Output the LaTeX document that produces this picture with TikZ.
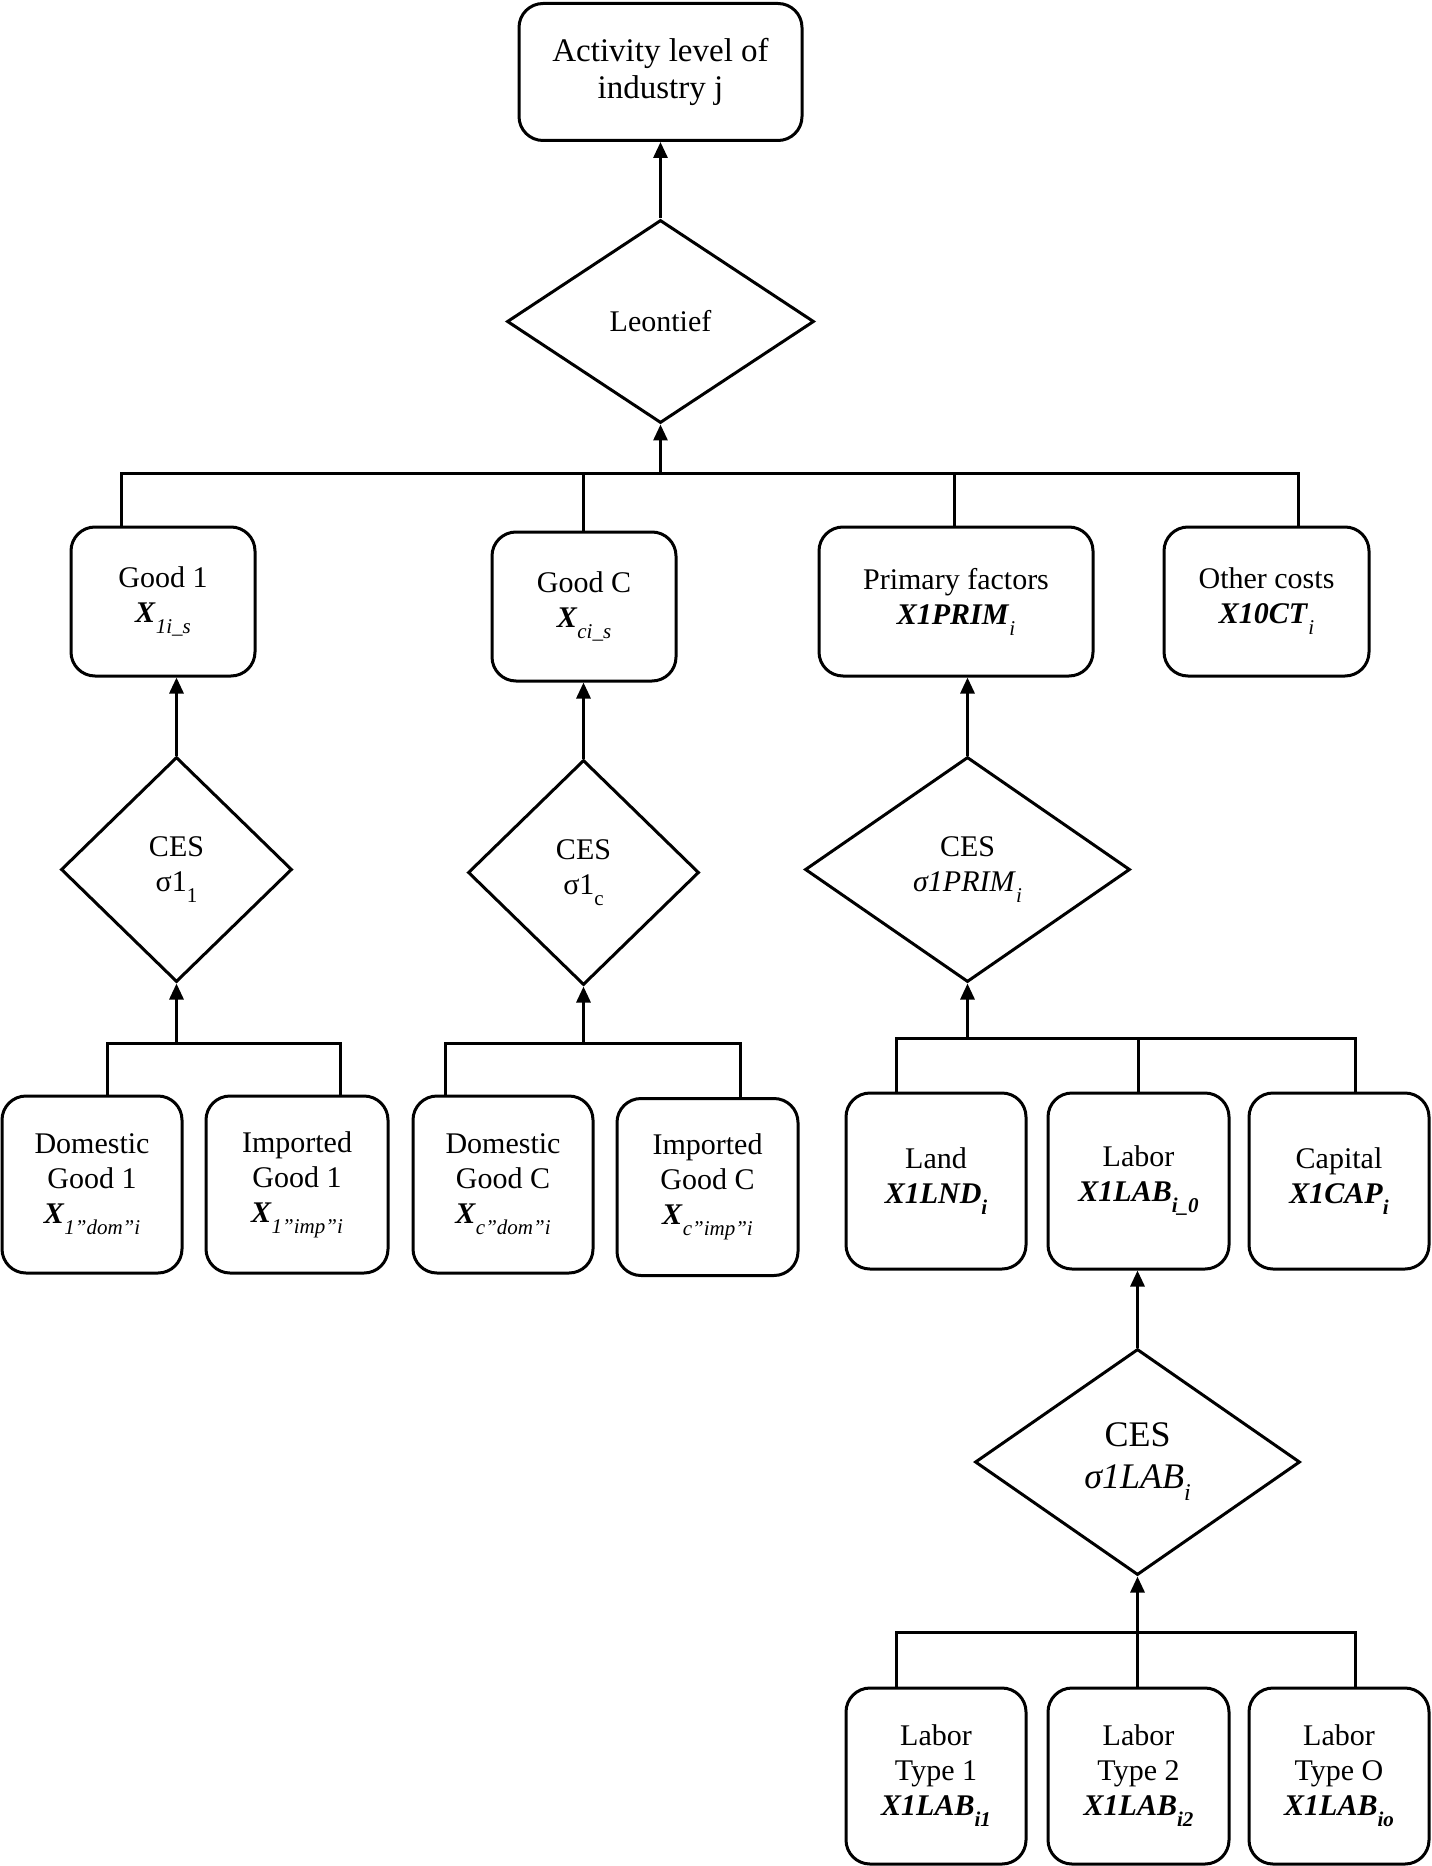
\documentclass[tikz,border=0pt]{standalone}
\usepackage{fontspec}
\setmainfont{Liberation Serif}
\usetikzlibrary{shapes.geometric,arrows.meta}
\newcommand\sbi[1]{\raisebox{-5.5pt}{\fontsize{10.5pt}{10.5pt}\selectfont\itshape #1}}
\newcommand\sbu[1]{\raisebox{-5.5pt}{\fontsize{10.5pt}{10.5pt}\selectfont #1}}
\newcommand\sbb[1]{\raisebox{-5.5pt}{\fontsize{10.5pt}{10.5pt}\selectfont\bfseries\itshape #1}}
\newcommand\bix[1]{\textbf{\textit{#1}}}
\tikzset{
  box/.style={draw, line width=1.5pt, rounded corners=12pt, align=center, inner sep=0pt,
    font=\fontsize{15pt}{17.5pt}\selectfont},
  dia/.style={draw, diamond, line width=1.5pt, align=center, inner sep=0pt,
    font=\fontsize{15pt}{17.5pt}\selectfont},
  conn/.style={line width=1.5pt},
  arr/.style={line width=1.5pt, -{Triangle[width=7pt,length=8pt]}},
}
\begin{document}
\begin{tikzpicture}[x=0.5pt,y=-0.5pt]
\useasboundingbox (0,0) rectangle (1431,1866);
% top box
\node[box, minimum width=141.5pt, minimum height=68.5pt, font=\fontsize{16.5pt}{18.5pt}\selectfont] (top) at (660.5,72) {Activity level of\\industry j};
\node[dia, minimum width=153.5pt, minimum height=101.5pt] (leon) at (660.5,321.5) {Leontief};
% level 2 boxes
\node[box, minimum width=92pt, minimum height=74.5pt] (g1) at (163,601.5) {Good 1\\\bix{X}\sbi{1i\_s}};
\node[box, minimum width=92pt, minimum height=74.5pt] (gc) at (584,606.5) {Good C\\\bix{X}\sbi{ci\_s}};
\node[box, minimum width=137pt, minimum height=74.5pt] (prim) at (956,601.5) {Primary factors\\\bix{X1PRIM}\sbi{i}};
\node[box, minimum width=102.5pt, minimum height=74.5pt] (oth) at (1266.5,601.5) {Other costs\\\bix{X10CT}\sbi{i}};
% CES diamonds
\node[dia, minimum width=115.5pt, minimum height=112.5pt] (ces1) at (176.5,869.5) {CES\\σ1\sbu{1}};
\node[dia, minimum width=115.5pt, minimum height=112.5pt] (cesc) at (583.5,872.5) {CES\\σ1\sbu{c}};
\node[dia, minimum width=162.5pt, minimum height=112.5pt] (cesp) at (967.5,869.5) {CES\\\textit{σ1PRIM}\sbi{i}};
% level 3 boxes
\node[box, minimum width=90pt, minimum height=88.5pt] (dg1) at (92,1184.5) {Domestic\\Good 1\\\bix{X}\sbi{1”dom”i}};
\node[box, minimum width=91pt, minimum height=88.5pt] (ig1) at (297,1184.5) {Imported\\Good 1\\\bix{X}\sbi{1”imp”i}};
\node[box, minimum width=90pt, minimum height=88.5pt] (dgc) at (503,1184.5) {Domestic\\Good C\\\bix{X}\sbi{c”dom”i}};
\node[box, minimum width=90.5pt, minimum height=88.5pt] (igc) at (707.5,1187) {Imported\\Good C\\\bix{X}\sbi{c”imp”i}};
\node[box, minimum width=90pt, minimum height=88pt] (land) at (936,1181) {Land\\\bix{X1LND}\sbb{i}};
\node[box, minimum width=90.5pt, minimum height=88pt] (lab) at (1138.5,1181) {Labor\\\bix{X1LAB}\sbb{i\_0}};
\node[box, minimum width=90pt, minimum height=88pt] (cap) at (1339,1181) {Capital\\\bix{X1CAP}\sbb{i}};
% labor CES
\node[dia, minimum width=162.5pt, minimum height=113pt, font=\fontsize{18pt}{21pt}\selectfont] (cesl) at (1137.5,1462) {CES\\\textit{σ1LAB}\raisebox{-6pt}{\fontsize{12pt}{12pt}\selectfont\itshape i}};
% bottom boxes
\node[box, minimum width=90pt, minimum height=88pt] (lt1) at (936,1776) {Labor\\Type 1\\\bix{X1LAB}\sbb{i1}};
\node[box, minimum width=90.5pt, minimum height=88pt] (lt2) at (1138.5,1776) {Labor\\Type 2\\\bix{X1LAB}\sbb{i2}};
\node[box, minimum width=90pt, minimum height=88pt] (lto) at (1339,1776) {Labor\\Type O\\\bix{X1LAB}\sbb{io}};
% bus coordinates
\coordinate (b0) at (660.5,473);
\coordinate (b0L) at (121,473);
\coordinate (b0R) at (1298,473);
\coordinate (b0c) at (583,473);
\coordinate (b0p) at (954,473);
\coordinate (b1) at (176.5,1043);
\coordinate (b1L) at (107,1043);
\coordinate (b1R) at (340,1043);
\coordinate (b2) at (583.5,1043);
\coordinate (b2L) at (445,1043);
\coordinate (b2R) at (740,1043);
\coordinate (b3) at (967.5,1038);
\coordinate (b3L) at (896,1038);
\coordinate (b3M) at (1138,1038);
\coordinate (b3R) at (1355,1038);
\coordinate (b4) at (1137.5,1632);
\coordinate (b4L) at (896,1632);
\coordinate (b4R) at (1355,1632);
% arrows
\draw[arr] (leon.north) -- (leon.north |- top.south);
\draw[arr] (b0) -- (leon.south);
\draw[arr] (ces1.north) -- (ces1.north |- g1.south);
\draw[arr] (cesc.north) -- (cesc.north |- gc.south);
\draw[arr] (cesp.north) -- (cesp.north |- prim.south);
\draw[arr] (b1) -- (ces1.south);
\draw[arr] (b2) -- (cesc.south);
\draw[arr] (b3) -- (cesp.south);
\draw[arr] (cesl.north) -- (cesl.north |- lab.south);
\draw[arr] (b4) -- (cesl.south);
% buses
\draw[conn] (b0L |- g1.north) -- (b0L) -- (b0R) -- (b0R |- oth.north);
\draw[conn] (b0c) -- (b0c |- gc.north);
\draw[conn] (b0p) -- (b0p |- prim.north);
\draw[conn] (b1L |- dg1.north) -- (b1L) -- (b1R) -- (b1R |- ig1.north);
\draw[conn] (b2L |- dgc.north) -- (b2L) -- (b2R) -- (b2R |- igc.north);
\draw[conn] (b3L |- land.north) -- (b3L) -- (b3R) -- (b3R |- cap.north);
\draw[conn] (b3M) -- (b3M |- lab.north);
\draw[conn] (b4L |- lt1.north) -- (b4L) -- (b4R) -- (b4R |- lto.north);
\draw[conn] (b4) -- (b4 |- lt2.north);
\end{tikzpicture}
\end{document}
